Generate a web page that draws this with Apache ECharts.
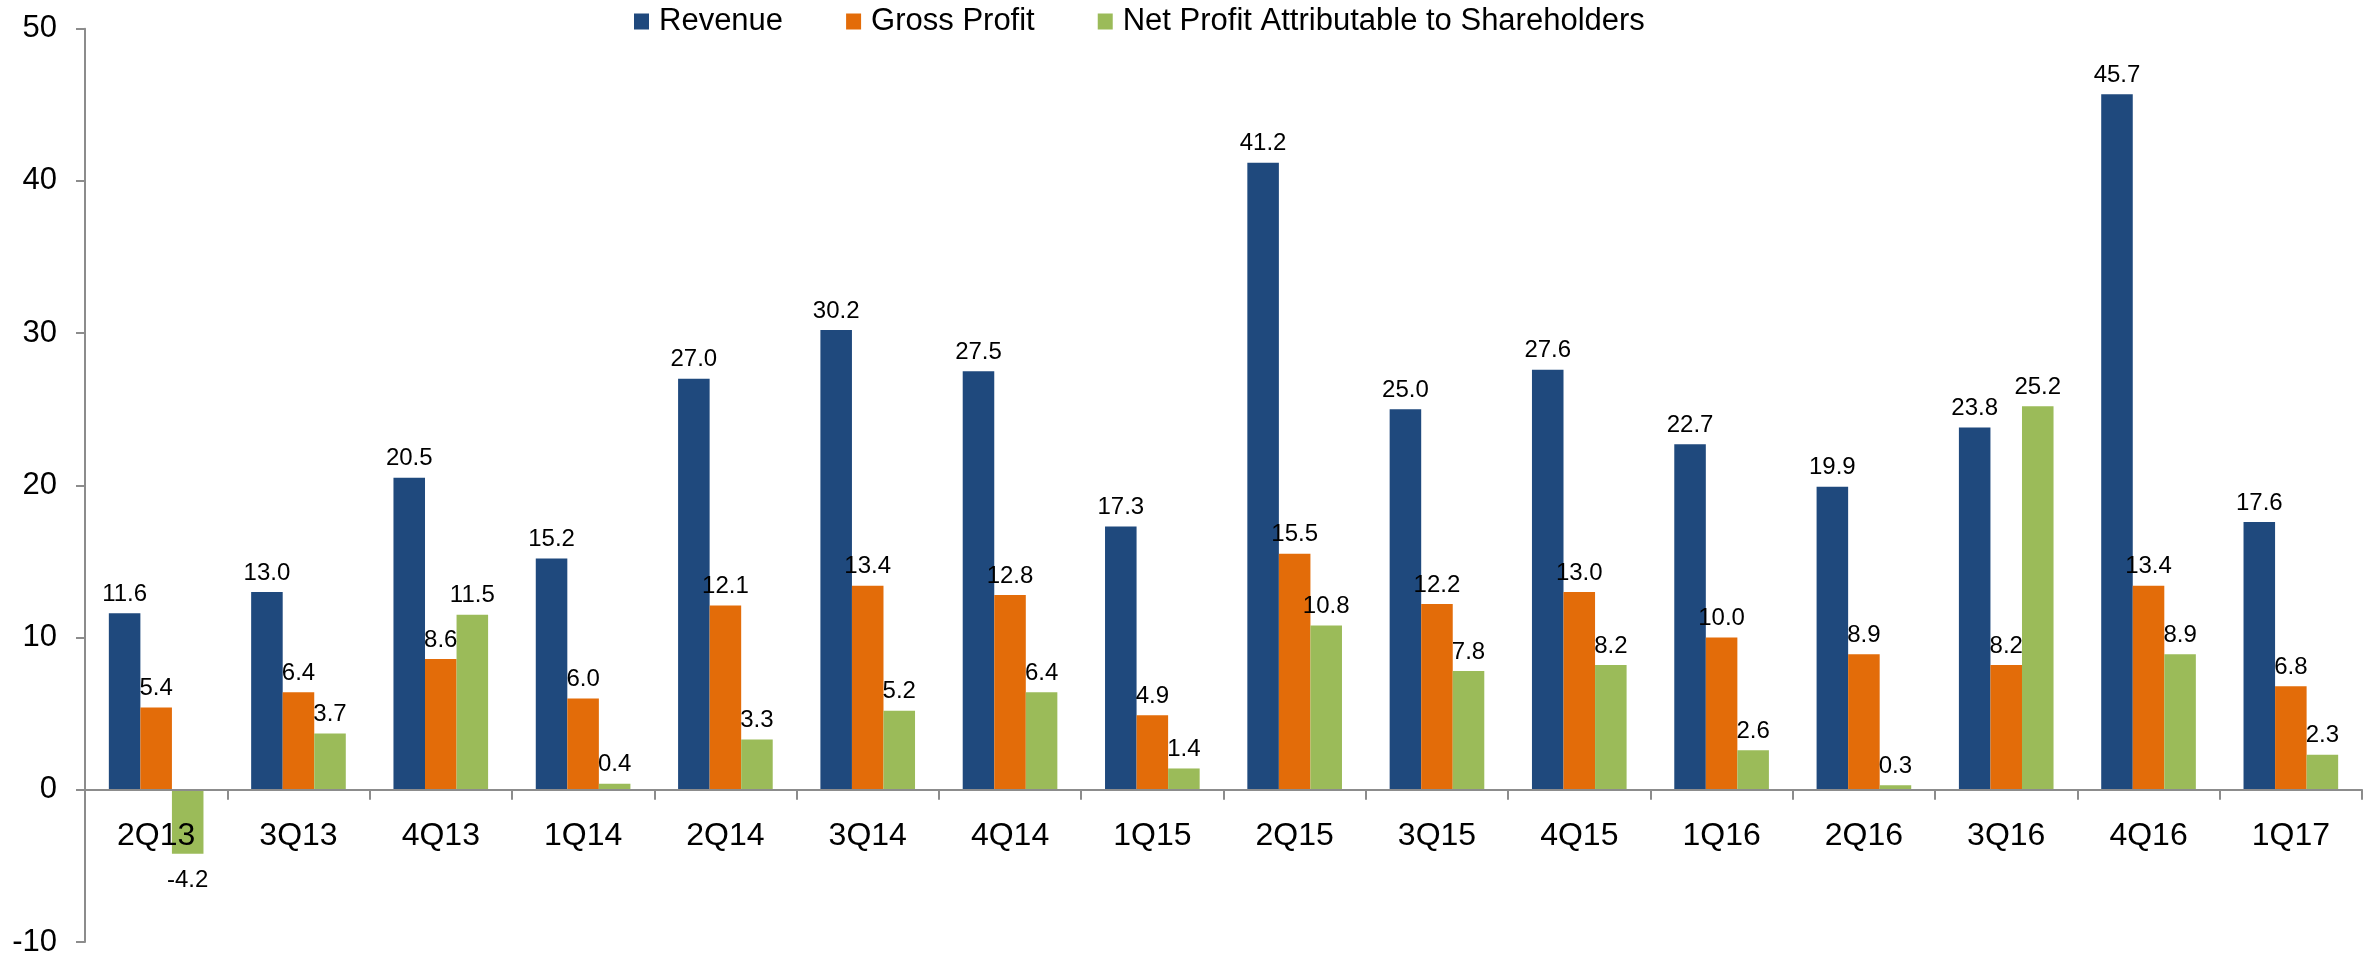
<!DOCTYPE html>
<html>
<head>
<meta charset="utf-8">
<script src="https://cdn.jsdelivr.net/npm/echarts@6/dist/echarts.min.js"></script>
<style>
html,body{margin:0;padding:0;background:#fff;}
#chart{width:2376px;height:956px;}
</style>
</head>
<body>
<div id="chart"></div>
<script>
const categories = ['2Q13','3Q13','4Q13','1Q14','2Q14','3Q14','4Q14','1Q15','2Q15','3Q15','4Q15','1Q16','2Q16','3Q16','4Q16','1Q17'];
const revenue = [11.6, 13.0, 20.5, 15.2, 27.0, 30.2, 27.5, 17.3, 41.2, 25.0, 27.6, 22.7, 19.9, 23.8, 45.7, 17.6];
const grossProfit = [5.4, 6.4, 8.6, 6.0, 12.1, 13.4, 12.8, 4.9, 15.5, 12.2, 13.0, 10.0, 8.9, 8.2, 13.4, 6.8];
const netProfit = [-4.2, 3.7, 11.5, 0.4, 3.3, 5.2, 6.4, 1.4, 10.8, 7.8, 8.2, 2.6, 0.3, 25.2, 8.9, 2.3];
const seriesNames = ['Revenue', 'Gross Profit', 'Net Profit Attributable to Shareholders'];
const colors = ['#1F497D', '#E36C09', '#9BBB59'];
const yMin = -10, yMax = 50, yStep = 10;

const FONT = '"Liberation Sans", Arial, sans-serif';
const H = 956, gridTop = 28.7, gridBottom = 14;
const gridHeight = H - gridTop - gridBottom;
// put the category axis on the zero line
const zeroOffset = -gridHeight * (0 - yMin) / (yMax - yMin);

function makeData(arr) {
  return arr.map(v => v < 0 ? { value: v, label: { position: 'bottom', distance: 15 } } : v);
}

function makeSeries(name, arr, color) {
  return {
    name: name,
    type: 'bar',
    data: makeData(arr),
    itemStyle: { color: color },
    barGap: '0%',
    barCategoryGap: '33.5%',
    label: {
      show: true,
      position: 'top',
      distance: 7,
      color: '#000',
      fontFamily: FONT,
      fontSize: 24,
      formatter: p => Number(p.value).toFixed(1)
    }
  };
}

const chart = echarts.init(document.getElementById('chart'), null, { renderer: 'canvas' });
chart.setOption({
  animation: false,
  color: colors,
  textStyle: { fontFamily: FONT },
  legend: {
    data: seriesNames,
    left: 629,
    top: 1,
    itemWidth: 15,
    itemHeight: 16,
    itemGap: 63,
    icon: 'rect',
    textStyle: { fontFamily: FONT, fontSize: 31, color: '#000', padding: [0, 0, 0, 5] }
  },
  grid: { left: 85, right: 14, top: gridTop, bottom: gridBottom, containLabel: false, outerBoundsMode: 'none' },
  xAxis: {
    type: 'category',
    data: categories,
    offset: zeroOffset,
    z: 10,
    axisLine: { onZero: false, lineStyle: { color: '#8c8c8c', width: 2 } },
    axisTick: { show: true, length: 10, alignWithLabel: false, lineStyle: { color: '#8c8c8c', width: 2 } },
    axisLabel: { color: '#000', fontFamily: FONT, fontSize: 32, margin: 30 },
    splitLine: { show: false }
  },
  yAxis: {
    type: 'value',
    min: yMin,
    max: yMax,
    interval: yStep,
    axisLine: { show: true, lineStyle: { color: '#8c8c8c', width: 2 } },
    axisTick: { show: true, length: 9, lineStyle: { color: '#8c8c8c', width: 2 } },
    axisLabel: { color: '#000', fontFamily: FONT, fontSize: 31, margin: 28 },
    splitLine: { show: false }
  },
  series: [
    makeSeries(seriesNames[0], revenue, colors[0]),
    makeSeries(seriesNames[1], grossProfit, colors[1]),
    makeSeries(seriesNames[2], netProfit, colors[2])
  ]
});
</script>
</body>
</html>
